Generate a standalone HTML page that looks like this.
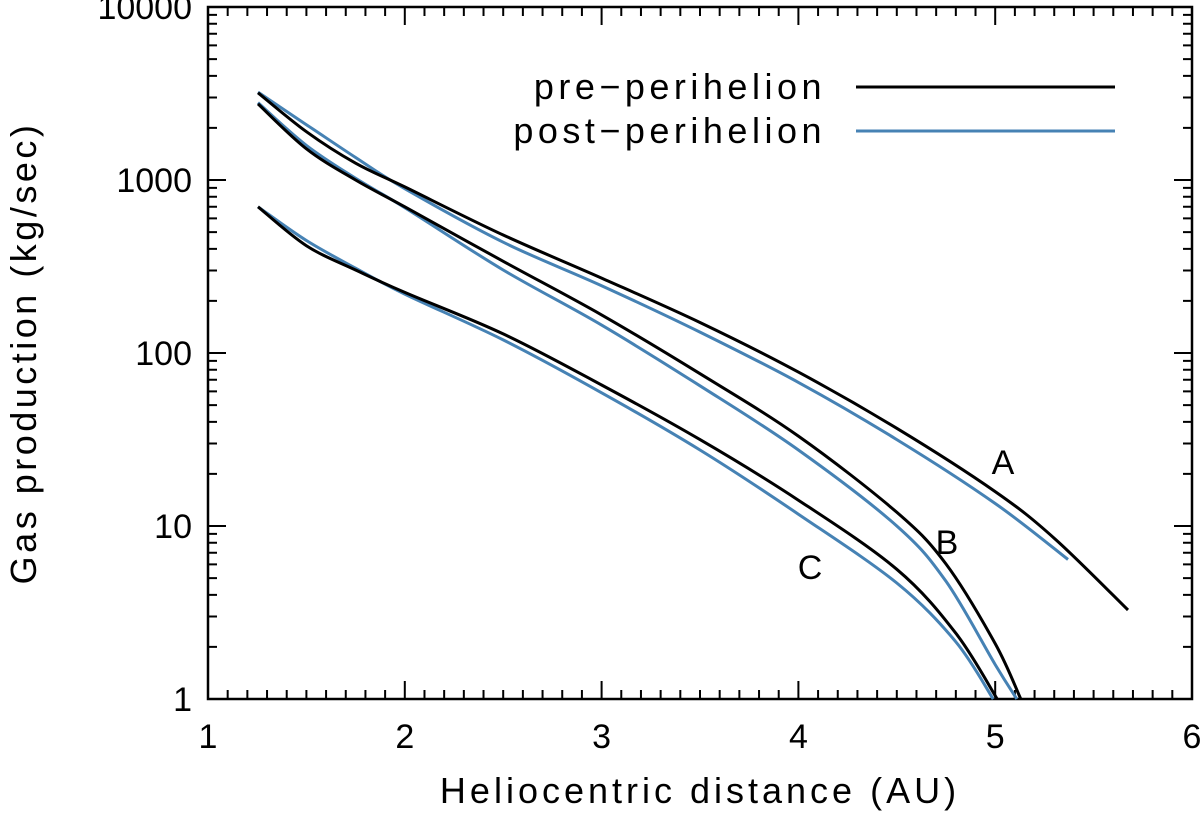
<!DOCTYPE html>
<html><head><meta charset="utf-8"><style>
body{margin:0;background:#fff}
svg text{font-family:"Liberation Sans",sans-serif;fill:#000}
</style></head><body>
<svg id="chart" width="1200" height="816" xmlns="http://www.w3.org/2000/svg"></svg>
<script>
const xTicks=[1,2,3,4,5,6];
const yTicks=[1,10,100,1000,10000];
const yTickLabels=["1","10","100","1000","10000"];
const aPreX=[1.254,1.5,1.75,2,2.5,3,3.5,4,4.5,5,5.3,5.675];
const aPreY=[3190,1901,1250,912,481,271,150,77.6,36.7,15.8,8.5,3.27];
const aPostX=[1.254,1.5,1.75,2,2.5,3,3.5,4,4.5,5,5.37];
const aPostY=[3220,2089,1349,891,437,245,132,67.6,31.6,13.5,6.4];
const bPreX=[1.254,1.5,1.75,2,2.5,3,3.5,4,4.5,4.75,5.0,5.13];
const bPreY=[2754,1514,1000,700,339,166,75.9,33.1,12.0,6.03,2.09,1.0];
const bPostX=[1.254,1.5,1.75,2,2.5,3,3.5,4,4.5,4.75,5.0,5.11];
const bPostY=[2800,1585,1023,692,302,145,64.6,27.5,10.0,4.79,1.58,1.0];
const cPreX=[1.254,1.5,1.75,2,2.5,3,3.5,4,4.5,4.8,5.01];
const cPreY=[700,417,302,224,129,65.3,31.6,14.1,5.62,2.4,1.0];
const cPostX=[1.254,1.5,1.75,2,2.5,3,3.5,4,4.5,4.8,4.99];
const cPostY=[700,447,309,219,119,58.9,27.5,11.7,4.68,2.14,1.0];
const L=208,R=1192,T=7,B=699;
const xs=v=>L+(v-1)/5*(R-L);
const ys=v=>B-Math.log10(v)/4*(B-T);
const svg=document.getElementById('chart');
const NS='http://www.w3.org/2000/svg';
function mk(tag,attrs,parent){const e=document.createElementNS(NS,tag);for(const k in attrs)e.setAttribute(k,attrs[k]);(parent||svg).appendChild(e);return e;}
const frame=mk('rect',{x:L,y:T,width:R-L,height:B-T,fill:'none',stroke:'#000','stroke-width':2.5});


for(let i=0;i<=50;i++){
  const v=1+i*0.1;const major=i%10==0;const len=major?18:9;const x=xs(v);
  const t=mk('path',{d:`M${x},${B}v${-len}M${x},${T}v${len}`,stroke:'#000','stroke-width':2});
  
  
}
xTicks.forEach(v=>{const t=mk('text',{x:xs(v),y:748,'font-size':34,'text-anchor':'middle'});t.textContent=v;

});
for(let d=0;d<4;d++){for(let m=1;m<10;m++){const v=m*Math.pow(10,d);const len=m==1?18:9;const y=ys(v);
  const t=mk('path',{d:`M${L},${y}h${len}M${R},${y}h${-len}`,stroke:'#000','stroke-width':2});
  
  }}
yTicks.forEach((v,i)=>{const t=mk('text',{x:192,y:ys(v)+12,'font-size':34,'text-anchor':'end'});t.textContent=yTickLabels[i];

});
const xt=mk('text',{x:700,y:803,'font-size':36,'text-anchor':'middle','letter-spacing':4});xt.textContent='Heliocentric distance (AU)';


const yt=mk('text',{x:0,y:0,'font-size':36,'text-anchor':'middle','letter-spacing':3.5,transform:'translate(36,353) rotate(-90)'});yt.textContent='Gas production (kg/sec)';


const BLUE='#4682b4';
function line(X,Y,color,name){
 const P=X.map((x,i)=>[xs(x),ys(Y[i])]);
 let d='M'+P[0][0].toFixed(1)+','+P[0][1].toFixed(1);
 for(let i=0;i<P.length-1;i++){
  const p0=P[Math.max(0,i-1)],p1=P[i],p2=P[i+1],p3=P[Math.min(P.length-1,i+2)];
  const c1=[p1[0]+(p2[0]-p0[0])/6,p1[1]+(p2[1]-p0[1])/6];
  const c2=[p2[0]-(p3[0]-p1[0])/6,p2[1]-(p3[1]-p1[1])/6];
  d+=`C${c1[0].toFixed(1)},${c1[1].toFixed(1)} ${c2[0].toFixed(1)},${c2[1].toFixed(1)} ${p2[0].toFixed(1)},${p2[1].toFixed(1)}`;
 }
 const p=mk('path',{d,fill:'none',stroke:color,'stroke-width':3,'stroke-linejoin':'round'});
 
 }
line(aPostX,aPostY,BLUE,'curve-a-post');line(bPostX,bPostY,BLUE,'curve-b-post');line(cPostX,cPostY,BLUE,'curve-c-post');
line(aPreX,aPreY,'#000','curve-a-pre');line(bPreX,bPreY,'#000','curve-b-pre');line(cPreX,cPreY,'#000','curve-c-pre');
[['A',1003,474],['B',947,554],['C',810,579]].forEach(a=>{const t=mk('text',{x:a[1],y:a[2],'font-size':34,'text-anchor':'middle'});t.textContent=a[0];

});
[['pre\u2212perihelion','#000',87],['post\u2212perihelion',BLUE,131]].forEach((e,i)=>{
 const g=mk('g',{});
 
 
 const t=mk('text',{x:826,y:e[2]+12,'font-size':36,'text-anchor':'end','letter-spacing':4.5},g);t.textContent=e[0];
 mk('line',{x1:856,x2:1115,y1:e[2],y2:e[2],stroke:e[1],'stroke-width':3},g);
});
</script>
</body></html>
